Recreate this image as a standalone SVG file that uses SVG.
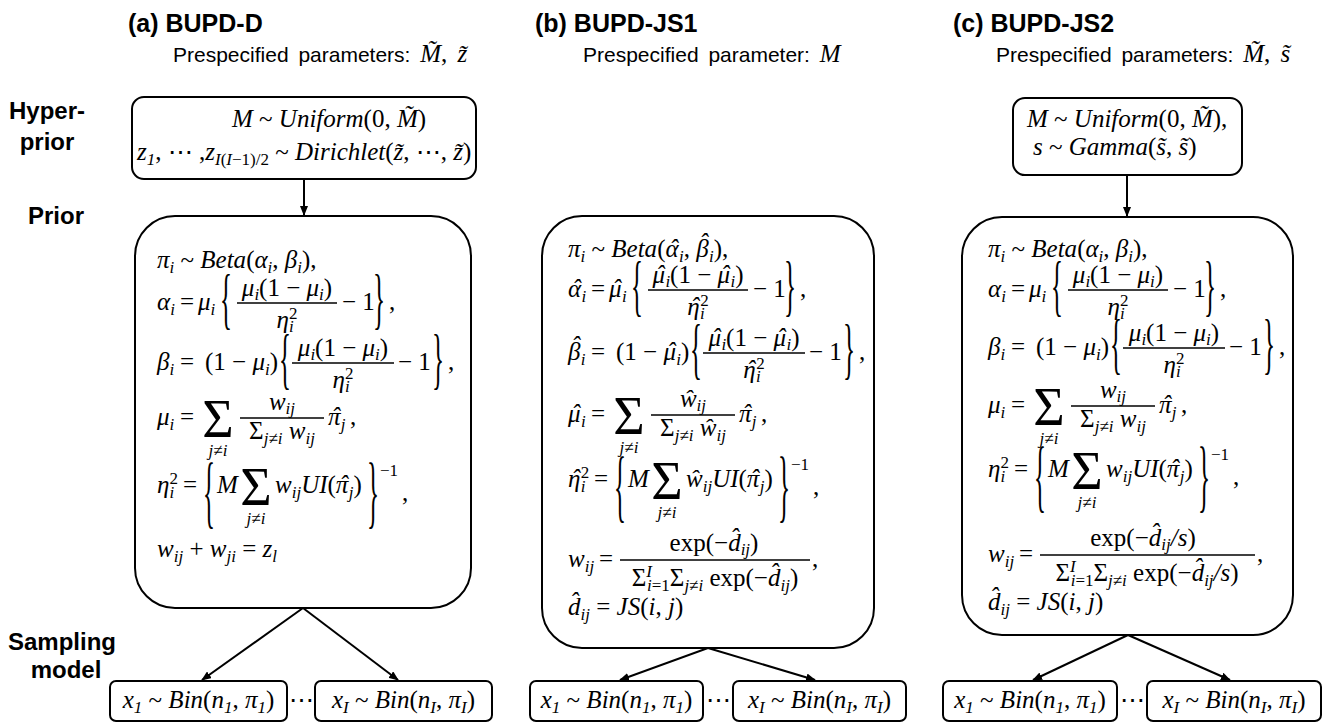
<svg xmlns="http://www.w3.org/2000/svg" width="1342" height="727" viewBox="0 0 1342 727">
<defs>
<style>
.t{font-family:"Liberation Sans",Arial,sans-serif;font-weight:bold;font-size:25px}
.p{font-family:"Liberation Sans",Arial,sans-serif;font-size:21px;word-spacing:4px}
.l{font-family:"Liberation Sans",Arial,sans-serif;font-weight:bold;font-size:24px;text-anchor:middle}
.m{font-family:"Liberation Serif","DejaVu Serif",serif;font-style:italic;font-size:25px}
.u{font-style:normal}
.s{font-size:17px}
.S{font-family:"Liberation Serif","DejaVu Serif",serif;font-style:normal;font-size:54px;text-anchor:middle}
.ja{font-family:"Liberation Serif","DejaVu Serif",serif;font-style:italic;font-size:17px;text-anchor:middle}
.mid{text-anchor:middle}
.box{fill:#fff;stroke:#000;stroke-width:2}
.bar{stroke:#000;stroke-width:1.3}
.c{stroke:#000;stroke-width:2;fill:none;marker-end:url(#ah)}
</style>
<marker id="ah" markerWidth="10" markerHeight="8" refX="9" refY="4" orient="auto" markerUnits="userSpaceOnUse"><path d="M0,0 L10,4 L0,8 z" fill="#000"/></marker>
</defs>
<rect width="1342" height="727" fill="#fff"/>

<g id="headers">
<text class="t" x="128" y="32">(a) BUPD-D</text>
<text class="t" x="535" y="32">(b) BUPD-JS1</text>
<text class="t" x="953" y="32">(c) BUPD-JS2</text>
<text class="p" x="173" y="62">Prespecified parameters: <tspan class="m" font-size="22">M&#x303;<tspan class="u">, </tspan>z&#x303;</tspan></text>
<text class="p" x="583" y="62">Prespecified parameter: <tspan class="m" font-size="22">M</tspan></text>
<text class="p" x="996" y="62">Prespecified parameters: <tspan class="m" font-size="22">M&#x303;<tspan class="u">, </tspan>s&#x303;</tspan></text>
</g>

<g id="row-labels">
<text class="l" x="47" y="119">Hyper-</text>
<text class="l" x="47" y="150">prior</text>
<text class="l" x="56" y="224">Prior</text>
<text class="l" x="62" y="650">Sampling</text>
<text class="l" x="66" y="678">model</text>
</g>

<g id="connectors">
<path class="c" d="M304,179 L304,215"/>
<path class="c" d="M303,608 L202,680"/>
<path class="c" d="M303,608 L398,680"/>
<path class="c" d="M708,648 L620,680"/>
<path class="c" d="M708,648 L815,680"/>
<path class="c" d="M1127,175 L1127,216"/>
<path class="c" d="M1128,635 L1033,680"/>
<path class="c" d="M1128,635 L1230,680"/>
</g>

<!-- (a) hyperprior -->
<g id="hyper-a">
<rect class="box" x="132" y="97" width="344" height="82" rx="12"/>
<text class="m" x="232" y="127">M<tspan class="u"> ~ </tspan>Uniform<tspan class="u">(0, </tspan>M&#x303;<tspan class="u">)</tspan></text>
<text class="m" x="137" y="160">z<tspan class="s" dy="5">1</tspan><tspan class="u" dy="-5">, ⋯ ,</tspan>z<tspan class="s" dy="5">I<tspan class="u">(</tspan>I<tspan class="u">−1)/2</tspan></tspan><tspan class="u" dy="-5"> ~ </tspan>Dirichlet<tspan class="u">(</tspan>z&#x303;<tspan class="u">, ⋯, </tspan>z&#x303;<tspan class="u">)</tspan></text>
</g>

<!-- (a) prior -->
<g id="prior-a">
<rect class="box" x="135" y="216" width="336" height="392" rx="40"/>
<g transform="translate(157,268)">
<text class="m">π<tspan class="s" dy="5">i</tspan><tspan class="u" dy="-5"> ~ </tspan>Beta<tspan class="u">(</tspan>α<tspan class="s" dy="5">i</tspan><tspan class="u" dy="-5">, </tspan>β<tspan class="s" dy="5">i</tspan><tspan class="u" dy="-5">),</tspan></text>
</g>
<g transform="translate(157,310)">
<text class="m">α<tspan class="s" dy="5">i</tspan></text>
<text class="m u" x="23">=</text>
<text class="m" x="41">μ<tspan class="s" dy="5">i</tspan></text>
<text class="m u" transform="translate(63,11) scale(1,2.67)">{</text>
<text class="m mid" x="130" y="-14">μ<tspan class="s" dy="4">i</tspan><tspan class="u" dy="-4">(1 − </tspan>μ<tspan class="s" dy="4">i</tspan><tspan class="u" dy="-4">)</tspan></text>
<line class="bar" x1="80" y1="-7" x2="180" y2="-7"/>
<text class="m mid" x="130" y="18">η<tspan class="s" dy="4">i</tspan><tspan class="s u" dx="-4.7" dy="-13">2</tspan></text>
<text class="m u" x="185">− 1</text>
<text class="m u" transform="translate(216,11) scale(1,2.67)">}</text>
<text class="m u" x="232">,</text>
</g>
<g transform="translate(157,370)">
<text class="m">β<tspan class="s" dy="5">i</tspan></text>
<text class="m u" x="23">=</text>
<text class="m" x="48"><tspan class="u">(1 − </tspan>μ<tspan class="s" dy="5">i</tspan><tspan class="u" dy="-5">)</tspan></text>
<text class="m u" transform="translate(122,11) scale(1,2.67)">{</text>
<text class="m mid" x="186" y="-14">μ<tspan class="s" dy="4">i</tspan><tspan class="u" dy="-4">(1 − </tspan>μ<tspan class="s" dy="4">i</tspan><tspan class="u" dy="-4">)</tspan></text>
<line class="bar" x1="135" y1="-7" x2="237" y2="-7"/>
<text class="m mid" x="186" y="18">η<tspan class="s" dy="4">i</tspan><tspan class="s u" dx="-4.7" dy="-13">2</tspan></text>
<text class="m u" x="241">− 1</text>
<text class="m u" transform="translate(275,11) scale(1,2.67)">}</text>
<text class="m u" x="291">,</text>
</g>
<g transform="translate(157,425)">
<text class="m">μ<tspan class="s" dy="5">i</tspan></text>
<text class="m u" x="23">=</text>
<text class="S" x="61" y="12">Σ</text>
<text class="ja" x="61" y="31">j<tspan class="u">≠</tspan>i</text>
<text class="m mid" x="125" y="-15">w<tspan class="s" dy="4">ij</tspan></text>
<line class="bar" x1="83" y1="-7" x2="167" y2="-7"/>
<text class="m mid" x="125" y="14"><tspan class="u">Σ</tspan><tspan class="s" dy="5">j<tspan class="u">≠</tspan>i</tspan><tspan dy="-5"> w</tspan><tspan class="s" dy="5">ij</tspan></text>
<text class="m" x="171">π<tspan dx="-9">ˆ</tspan><tspan class="s" dx="1" dy="5">j</tspan></text>
<text class="m u" x="193">,</text>
</g>
<g transform="translate(157,493)">
<text class="m">η<tspan class="s" dy="5">i</tspan><tspan class="s u" dx="-4.7" dy="-14">2</tspan></text>
<text class="m u" x="26">=</text>
<text class="m u" transform="translate(46,24.5) scale(1,3.22)">{</text>
<text class="m" x="60">M</text>
<text class="S" x="99" y="12">Σ</text>
<text class="ja" x="99" y="31">j<tspan class="u">≠</tspan>i</text>
<text class="m" x="118">w<tspan class="s" dy="5">ij</tspan><tspan dy="-5">UI</tspan><tspan class="u">(</tspan>π<tspan dx="-9">ˆ</tspan><tspan class="s" dx="1" dy="5">j</tspan><tspan class="u" dy="-5">)</tspan></text>
<text class="m u" transform="translate(210,24.5) scale(1,3.22)">}</text>
<text class="m u s" x="223" y="-17">−1</text>
<text class="m u" x="245" y="8">,</text>
</g>
<g transform="translate(157,557)">
<text class="m">w<tspan class="s" dy="5">ij</tspan><tspan class="u" dy="-5"> + </tspan>w<tspan class="s" dy="5">ji</tspan><tspan class="u" dy="-5"> = </tspan>z<tspan class="s" dy="5">l</tspan></text>
</g>
</g>

<!-- (b) prior -->
<g id="prior-b">
<rect class="box" x="542" y="216" width="332" height="432" rx="40"/>
<g transform="translate(568,257)">
<text class="m">π<tspan class="s" dy="5">i</tspan><tspan class="u" dy="-5"> ~ </tspan>Beta<tspan class="u">(</tspan>α<tspan dx="-9">ˆ</tspan><tspan class="s" dx="1" dy="5">i</tspan><tspan class="u" dy="-5">, </tspan>β<tspan dx="-9" dy="-6">ˆ</tspan><tspan class="s" dx="1" dy="11">i</tspan><tspan class="u" dy="-5">),</tspan></text>
</g>
<g transform="translate(568,297)">
<text class="m">α<tspan dx="-9">ˆ</tspan><tspan class="s" dx="1" dy="5">i</tspan></text>
<text class="m u" x="23">=</text>
<text class="m" x="41">μ<tspan dx="-9">ˆ</tspan><tspan class="s" dx="1" dy="5">i</tspan></text>
<text class="m u" transform="translate(63,11) scale(1,2.67)">{</text>
<text class="m mid" x="130" y="-14">μ<tspan dx="-9">ˆ</tspan><tspan class="s" dx="1" dy="4">i</tspan><tspan class="u" dy="-4">(1 − </tspan>μ<tspan dx="-9">ˆ</tspan><tspan class="s" dx="1" dy="4">i</tspan><tspan class="u" dy="-4">)</tspan></text>
<line class="bar" x1="80" y1="-7" x2="180" y2="-7"/>
<text class="m mid" x="130" y="18">η<tspan dx="-9">ˆ</tspan><tspan class="s" dx="1" dy="4">i</tspan><tspan class="s u" dx="-4.7" dy="-13">2</tspan></text>
<text class="m u" x="185">− 1</text>
<text class="m u" transform="translate(216,11) scale(1,2.67)">}</text>
<text class="m u" x="232">,</text>
</g>
<g transform="translate(568,360)">
<text class="m">β<tspan dx="-9" dy="-6">ˆ</tspan><tspan class="s" dx="1" dy="11">i</tspan></text>
<text class="m u" x="23">=</text>
<text class="m" x="48"><tspan class="u">(1 − </tspan>μ<tspan dx="-9">ˆ</tspan><tspan class="s" dx="1" dy="5">i</tspan><tspan class="u" dy="-5">)</tspan></text>
<text class="m u" transform="translate(122,11) scale(1,2.67)">{</text>
<text class="m mid" x="186" y="-14">μ<tspan dx="-9">ˆ</tspan><tspan class="s" dx="1" dy="4">i</tspan><tspan class="u" dy="-4">(1 − </tspan>μ<tspan dx="-9">ˆ</tspan><tspan class="s" dx="1" dy="4">i</tspan><tspan class="u" dy="-4">)</tspan></text>
<line class="bar" x1="135" y1="-7" x2="237" y2="-7"/>
<text class="m mid" x="186" y="18">η<tspan dx="-9">ˆ</tspan><tspan class="s" dx="1" dy="4">i</tspan><tspan class="s u" dx="-4.7" dy="-13">2</tspan></text>
<text class="m u" x="241">− 1</text>
<text class="m u" transform="translate(275,11) scale(1,2.67)">}</text>
<text class="m u" x="291">,</text>
</g>
<g transform="translate(568,422)">
<text class="m">μ<tspan dx="-9">ˆ</tspan><tspan class="s" dx="1" dy="5">i</tspan></text>
<text class="m u" x="23">=</text>
<text class="S" x="61" y="12">Σ</text>
<text class="ja" x="61" y="31">j<tspan class="u">≠</tspan>i</text>
<text class="m mid" x="125" y="-15">w&#x302;<tspan class="s" dy="4">ij</tspan></text>
<line class="bar" x1="83" y1="-7" x2="167" y2="-7"/>
<text class="m mid" x="125" y="14"><tspan class="u">Σ</tspan><tspan class="s" dy="5">j<tspan class="u">≠</tspan>i</tspan><tspan dy="-5"> w&#x302;</tspan><tspan class="s" dy="5">ij</tspan></text>
<text class="m" x="171">π<tspan dx="-9">ˆ</tspan><tspan class="s" dx="1" dy="5">j</tspan></text>
<text class="m u" x="193">,</text>
</g>
<g transform="translate(568,487)">
<text class="m">η<tspan dx="-9">ˆ</tspan><tspan class="s" dx="1" dy="5">i</tspan><tspan class="s u" dx="-4.7" dy="-14">2</tspan></text>
<text class="m u" x="26">=</text>
<text class="m u" transform="translate(46,24.5) scale(1,3.22)">{</text>
<text class="m" x="60">M</text>
<text class="S" x="99" y="12">Σ</text>
<text class="ja" x="99" y="31">j<tspan class="u">≠</tspan>i</text>
<text class="m" x="118">w&#x302;<tspan class="s" dy="5">ij</tspan><tspan dy="-5">UI</tspan><tspan class="u">(</tspan>π<tspan dx="-9">ˆ</tspan><tspan class="s" dx="1" dy="5">j</tspan><tspan class="u" dy="-5">)</tspan></text>
<text class="m u" transform="translate(210,24.5) scale(1,3.22)">}</text>
<text class="m u s" x="223" y="-17">−1</text>
<text class="m u" x="245" y="8">,</text>
</g>
<g transform="translate(568,567)">
<text class="m">w<tspan class="s" dy="5">ij</tspan></text>
<text class="m u" x="31">=</text>
<text class="m mid" x="146" y="-16"><tspan class="u">exp(−</tspan>d&#x302;<tspan class="s" dy="4">ij</tspan><tspan class="u" dy="-4">)</tspan></text>
<line class="bar" x1="52" y1="-7" x2="242" y2="-7"/>
<text class="m mid" x="147" y="19"><tspan class="u">Σ</tspan><tspan class="s" dy="-9">I</tspan><tspan class="s" dx="-5" dy="14">i<tspan class="u">=1</tspan></tspan><tspan class="u" dy="-5">Σ</tspan><tspan class="s" dy="5">j<tspan class="u">≠</tspan>i</tspan><tspan class="u" dy="-5"> exp(−</tspan>d&#x302;<tspan class="s" dy="5">ij</tspan><tspan class="u" dy="-5">)</tspan></text>
<text class="m u" x="244">,</text>
</g>
<g transform="translate(568,615)">
<text class="m">d&#x302;<tspan class="s" dy="5">ij</tspan><tspan class="u" dy="-5"> = </tspan>JS<tspan class="u">(</tspan>i<tspan class="u">, </tspan>j<tspan class="u">)</tspan></text>
</g>
</g>

<!-- (c) hyperprior -->
<g id="hyper-c">
<rect class="box" x="1013" y="98" width="229" height="77" rx="12"/>
<text class="m" x="1027" y="127">M<tspan class="u"> ~ </tspan>Uniform<tspan class="u">(0, </tspan>M&#x303;<tspan class="u">),</tspan></text>
<text class="m" x="1033" y="155">s<tspan class="u"> ~ </tspan>Gamma<tspan class="u">(</tspan>s&#x303;<tspan class="u">, </tspan>s&#x303;<tspan class="u">)</tspan></text>
</g>

<!-- (c) prior -->
<g id="prior-c">
<rect class="box" x="962" y="217" width="331" height="418" rx="40"/>
<g transform="translate(988,257)">
<text class="m">π<tspan class="s" dy="5">i</tspan><tspan class="u" dy="-5"> ~ </tspan>Beta<tspan class="u">(</tspan>α<tspan class="s" dy="5">i</tspan><tspan class="u" dy="-5">, </tspan>β<tspan class="s" dy="5">i</tspan><tspan class="u" dy="-5">),</tspan></text>
</g>
<g transform="translate(988,297)">
<text class="m">α<tspan class="s" dy="5">i</tspan></text>
<text class="m u" x="23">=</text>
<text class="m" x="41">μ<tspan class="s" dy="5">i</tspan></text>
<text class="m u" transform="translate(63,11) scale(1,2.67)">{</text>
<text class="m mid" x="130" y="-14">μ<tspan class="s" dy="4">i</tspan><tspan class="u" dy="-4">(1 − </tspan>μ<tspan class="s" dy="4">i</tspan><tspan class="u" dy="-4">)</tspan></text>
<line class="bar" x1="80" y1="-7" x2="180" y2="-7"/>
<text class="m mid" x="130" y="18">η<tspan class="s" dy="4">i</tspan><tspan class="s u" dx="-4.7" dy="-13">2</tspan></text>
<text class="m u" x="185">− 1</text>
<text class="m u" transform="translate(216,11) scale(1,2.67)">}</text>
<text class="m u" x="232">,</text>
</g>
<g transform="translate(988,355)">
<text class="m">β<tspan class="s" dy="5">i</tspan></text>
<text class="m u" x="23">=</text>
<text class="m" x="48"><tspan class="u">(1 − </tspan>μ<tspan class="s" dy="5">i</tspan><tspan class="u" dy="-5">)</tspan></text>
<text class="m u" transform="translate(122,11) scale(1,2.67)">{</text>
<text class="m mid" x="186" y="-14">μ<tspan class="s" dy="4">i</tspan><tspan class="u" dy="-4">(1 − </tspan>μ<tspan class="s" dy="4">i</tspan><tspan class="u" dy="-4">)</tspan></text>
<line class="bar" x1="135" y1="-7" x2="237" y2="-7"/>
<text class="m mid" x="186" y="18">η<tspan class="s" dy="4">i</tspan><tspan class="s u" dx="-4.7" dy="-13">2</tspan></text>
<text class="m u" x="241">− 1</text>
<text class="m u" transform="translate(275,11) scale(1,2.67)">}</text>
<text class="m u" x="291">,</text>
</g>
<g transform="translate(988,413)">
<text class="m">μ<tspan class="s" dy="5">i</tspan></text>
<text class="m u" x="23">=</text>
<text class="S" x="61" y="12">Σ</text>
<text class="ja" x="61" y="31">j<tspan class="u">≠</tspan>i</text>
<text class="m mid" x="125" y="-15">w<tspan class="s" dy="4">ij</tspan></text>
<line class="bar" x1="83" y1="-7" x2="167" y2="-7"/>
<text class="m mid" x="125" y="14"><tspan class="u">Σ</tspan><tspan class="s" dy="5">j<tspan class="u">≠</tspan>i</tspan><tspan dy="-5"> w</tspan><tspan class="s" dy="5">ij</tspan></text>
<text class="m" x="171">π<tspan dx="-9">ˆ</tspan><tspan class="s" dx="1" dy="5">j</tspan></text>
<text class="m u" x="193">,</text>
</g>
<g transform="translate(988,477)">
<text class="m">η<tspan class="s" dy="5">i</tspan><tspan class="s u" dx="-4.7" dy="-14">2</tspan></text>
<text class="m u" x="26">=</text>
<text class="m u" transform="translate(46,24.5) scale(1,3.22)">{</text>
<text class="m" x="60">M</text>
<text class="S" x="99" y="12">Σ</text>
<text class="ja" x="99" y="31">j<tspan class="u">≠</tspan>i</text>
<text class="m" x="118">w<tspan class="s" dy="5">ij</tspan><tspan dy="-5">UI</tspan><tspan class="u">(</tspan>π<tspan dx="-9">ˆ</tspan><tspan class="s" dx="1" dy="5">j</tspan><tspan class="u" dy="-5">)</tspan></text>
<text class="m u" transform="translate(210,24.5) scale(1,3.22)">}</text>
<text class="m u s" x="223" y="-17">−1</text>
<text class="m u" x="245" y="8">,</text>
</g>
<g transform="translate(988,562)">
<text class="m">w<tspan class="s" dy="5">ij</tspan></text>
<text class="m u" x="31">=</text>
<text class="m mid" x="155" y="-16"><tspan class="u">exp(−</tspan>d&#x302;<tspan class="s" dy="4">ij</tspan><tspan dy="-4">/s</tspan><tspan class="u">)</tspan></text>
<line class="bar" x1="52" y1="-7" x2="267" y2="-7"/>
<text class="m mid" x="159" y="19"><tspan class="u">Σ</tspan><tspan class="s" dy="-9">I</tspan><tspan class="s" dx="-5" dy="14">i<tspan class="u">=1</tspan></tspan><tspan class="u" dy="-5">Σ</tspan><tspan class="s" dy="5">j<tspan class="u">≠</tspan>i</tspan><tspan class="u" dy="-5"> exp(−</tspan>d&#x302;<tspan class="s" dy="5">ij</tspan><tspan dy="-5">/s</tspan><tspan class="u">)</tspan></text>
<text class="m u" x="269">,</text>
</g>
<g transform="translate(988,610)">
<text class="m">d&#x302;<tspan class="s" dy="5">ij</tspan><tspan class="u" dy="-5"> = </tspan>JS<tspan class="u">(</tspan>i<tspan class="u">, </tspan>j<tspan class="u">)</tspan></text>
</g>
</g>

<!-- sampling model nodes -->
<g id="bin-a1"><rect class="box" x="110" y="681" width="177" height="40" rx="6"/>
<text class="m mid" x="198.5" y="708">x<tspan class="s" dy="5">1</tspan><tspan class="u" dy="-5"> ~ </tspan>Bin<tspan class="u">(</tspan>n<tspan class="s" dy="5">1</tspan><tspan class="u" dy="-5">, </tspan>π<tspan class="s" dy="5">1</tspan><tspan class="u" dy="-5">)</tspan></text></g>
<g id="bin-aI"><rect class="box" x="315" y="681" width="177" height="40" rx="6"/>
<text class="m mid" x="403.5" y="708">x<tspan class="s" dy="5">I</tspan><tspan class="u" dy="-5"> ~ </tspan>Bin<tspan class="u">(</tspan>n<tspan class="s" dy="5">I</tspan><tspan class="u" dy="-5">, </tspan>π<tspan class="s" dy="5">I</tspan><tspan class="u" dy="-5">)</tspan></text></g>
<text class="m u mid" x="301" y="708">⋯</text>

<g id="bin-b1"><rect class="box" x="530" y="681" width="173" height="40" rx="6"/>
<text class="m mid" x="616.5" y="708">x<tspan class="s" dy="5">1</tspan><tspan class="u" dy="-5"> ~ </tspan>Bin<tspan class="u">(</tspan>n<tspan class="s" dy="5">1</tspan><tspan class="u" dy="-5">, </tspan>π<tspan class="s" dy="5">1</tspan><tspan class="u" dy="-5">)</tspan></text></g>
<g id="bin-bI"><rect class="box" x="733" y="681" width="173" height="40" rx="6"/>
<text class="m mid" x="819.5" y="708">x<tspan class="s" dy="5">I</tspan><tspan class="u" dy="-5"> ~ </tspan>Bin<tspan class="u">(</tspan>n<tspan class="s" dy="5">I</tspan><tspan class="u" dy="-5">, </tspan>π<tspan class="s" dy="5">I</tspan><tspan class="u" dy="-5">)</tspan></text></g>
<text class="m u mid" x="718" y="708">⋯</text>

<g id="bin-c1"><rect class="box" x="943" y="681" width="174" height="40" rx="6"/>
<text class="m mid" x="1030" y="708">x<tspan class="s" dy="5">1</tspan><tspan class="u" dy="-5"> ~ </tspan>Bin<tspan class="u">(</tspan>n<tspan class="s" dy="5">1</tspan><tspan class="u" dy="-5">, </tspan>π<tspan class="s" dy="5">1</tspan><tspan class="u" dy="-5">)</tspan></text></g>
<g id="bin-cI"><rect class="box" x="1147" y="681" width="174" height="40" rx="6"/>
<text class="m mid" x="1234" y="708">x<tspan class="s" dy="5">I</tspan><tspan class="u" dy="-5"> ~ </tspan>Bin<tspan class="u">(</tspan>n<tspan class="s" dy="5">I</tspan><tspan class="u" dy="-5">, </tspan>π<tspan class="s" dy="5">I</tspan><tspan class="u" dy="-5">)</tspan></text></g>
<text class="m u mid" x="1132" y="708">⋯</text>
</svg>
